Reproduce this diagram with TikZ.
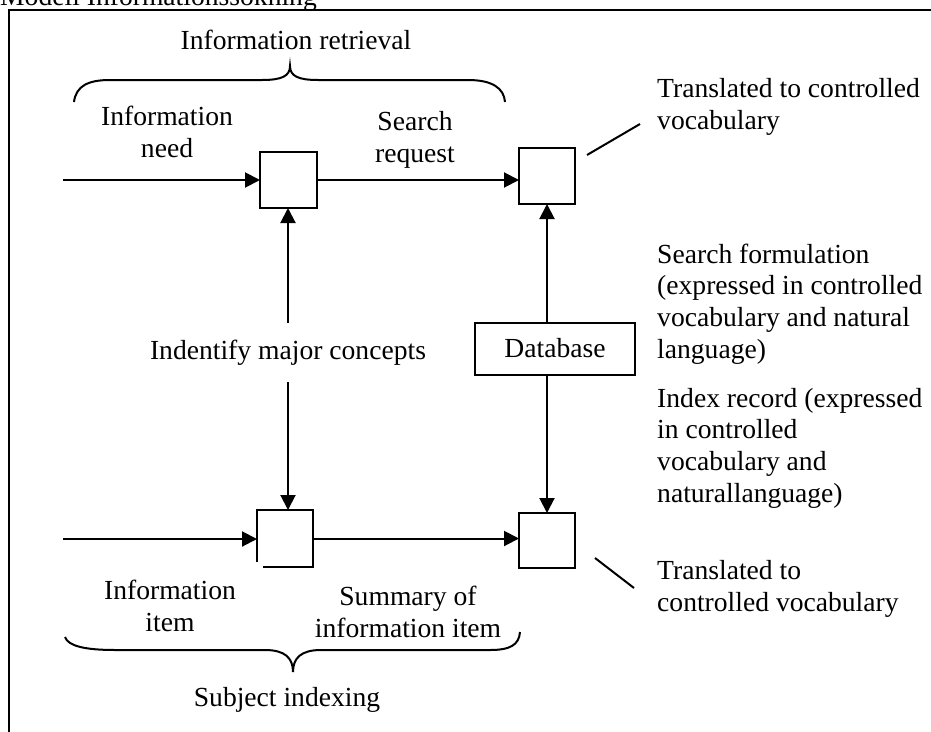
\documentclass[tikz,border=0pt]{standalone}
\usepackage{fontspec}
\setmainfont{Liberation Serif}
\usetikzlibrary{arrows.meta}
\begin{document}
\begin{tikzpicture}[x=1pt,y=-1pt,
  every node/.style={font=\fontsize{27.6}{31.7}\selectfont},
  stroke/.style={line width=2pt},
  arr/.style={stroke,-{Triangle[length=15pt,width=15pt]}},
  sqbox/.style={draw,line width=2pt,minimum width=56pt,minimum height=56pt,inner sep=0pt,outer sep=0pt},
  lbl/.style={align=center,inner sep=0pt},
  note/.style={align=left,anchor=west,inner sep=0pt}]
\useasboundingbox (0,0) rectangle (931,731);
% frame and title
\node[anchor=base west,inner sep=0pt] (title) at (0,5.5) {Modell Informationssökning};
\draw[stroke] (935,10) -- (9,10) -- (9,735);
% boxes
\node[sqbox,minimum width=57pt] (A) at (288.5,180) {};
\node[sqbox] (B) at (547,176) {};
\node[sqbox,draw=none,minimum height=57pt] (C) at (285,538.5) {};
\draw[stroke] (C.south west) ++(0,-5) -- (C.north west) -- (C.north east) -- (C.south east) -- ++(-50,0);
\node[sqbox,minimum height=55pt] (D) at (547,540.5) {};
\node[sqbox,minimum width=160pt,minimum height=52pt] (DB) at (555,348.5) {Database};
% labels
\node[lbl] (itop) at (296,40) {Information retrieval};
\node[lbl] (need) at (167,132) {Information\\need};
\node[lbl] (sreq) at (415,140) {Search\\request};
\node[lbl,inner ysep=17pt] (idl) at (288,352.5) {Indentify major concepts};
\node[lbl] (item) at (170,606) {Information\\item};
\node[lbl] (summ) at (408,612) {Summary of\\information item};
\node[lbl] (ibot) at (287,700) {Subject indexing};
\node[note] (t1) at (657,107) {Translated to controlled\\vocabulary};
\node[note] (sf) at (657,304) {Search formulation\\(expressed in controlled\\vocabulary and natural\\language)};
\node[note] (ir) at (657,448) {Index record (expressed\\in controlled\\vocabulary and\\naturallanguage)};
\node[note] (t2) at (657,589) {Translated to\\controlled vocabulary};
% braces
\draw[stroke] (74,102) .. controls (76,86) and (88,80) .. (110,80) -- (262,80)
  .. controls (282,80) and (290,76) .. (290,66)
  .. controls (290,76) and (298,80) .. (318,80) -- (468,80)
  .. controls (492,80) and (504,88) .. (505,102);
\draw[stroke] (65,637) .. controls (68,646) and (85,650) .. (115,650) -- (265,650)
  .. controls (285,650) and (293,658) .. (293,672)
  .. controls (293,658) and (301,650) .. (321,650) -- (490,650)
  .. controls (510,650) and (519,645) .. (520,632);
% callout lines
\coordinate (c1a) at (587,155);
\coordinate (c1b) at (640,124);
\draw[stroke] (c1a) -- (c1b);
\coordinate (c2a) at (595,558);
\coordinate (c2b) at (634,588);
\draw[stroke] (c2a) -- (c2b);
% connectors
\coordinate (inA) at (63,180);
\coordinate (inC) at (63,539);
\draw[arr] (inA) -- (A.west);
\draw[arr] (A.east) -- (A.east -| B.west);
\draw[arr] (idl.north) -- (idl.north |- A.south);
\draw[arr] (idl.south) -- (idl.south |- C.north);
\draw[arr] (B.south |- DB.north) -- (B.south);
\draw[arr] (D.north |- DB.south) -- (D.north);
\draw[arr] (inC) -- (inC -| C.west);
\draw[arr] (C.east) -- (C.east -| D.west);
\end{tikzpicture}
\end{document}
